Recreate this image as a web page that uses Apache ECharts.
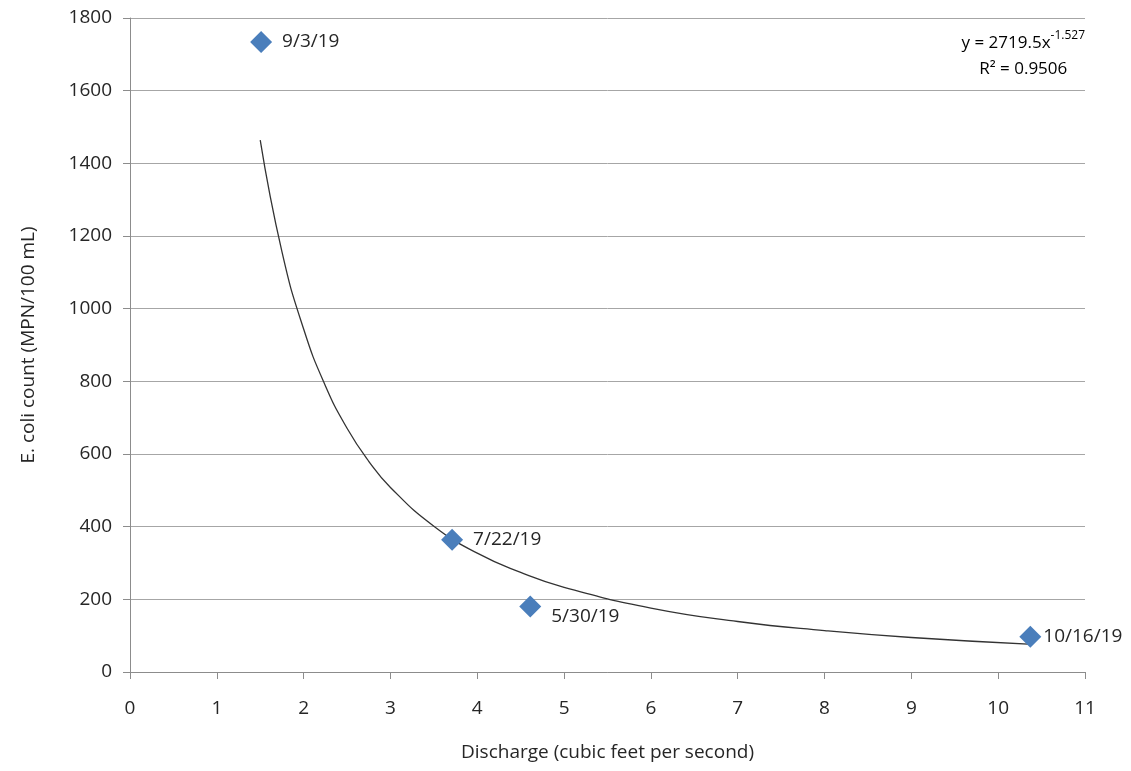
<!DOCTYPE html>
<html>
<head>
<meta charset="utf-8">
<script src="https://cdn.jsdelivr.net/npm/echarts@6/dist/echarts.min.js"></script>
<style>
  html, body { margin: 0; padding: 0; background: #fff; }
  #main { width: 1131px; height: 771px; }
</style>
</head>
<body>
<div id="main"></div>
<script>
// sample points (discharge, E. coli count, date label)
var discharge = [1.51, 3.71, 4.61, 10.37];
var ecoli = [1734, 364, 180, 97];
var dates = ['9/3/19', '7/22/19', '5/30/19', '10/16/19'];

// power trendline points: worked out by hand from the equation printed on the chart
// (y = 2719.5x^-1.527), then checked against the drawn curve
var trendX = [1.5, 1.75, 2, 2.25, 2.5, 2.75, 3, 3.5, 4, 4.5, 5, 6, 7, 8, 9, 10.4];
var trendY = [1464, 1157, 944, 788, 671, 580, 508, 401, 327, 274, 233, 176, 139, 114, 95, 76];

var xTicks = [0, 1, 2, 3, 4, 5, 6, 7, 8, 9, 10, 11];
var yTicks = [0, 200, 400, 600, 800, 1000, 1200, 1400, 1600, 1800];

var font = 'Open Sans';
var txt = '#262626';

var points = [];
for (var i = 0; i < discharge.length; i++) {
    points.push({ value: [discharge[i], ecoli[i]], name: dates[i] });
}
var trend = [];
for (var i = 0; i < trendX.length; i++) {
    trend.push([trendX[i], trendY[i]]);
}

var chart = echarts.init(document.getElementById('main'));
chart.setOption({
    animation: false,
    grid: { left: 130, right: 46, top: 18, bottom: 99, outerBoundsMode: 'none', containLabel: false },
    xAxis: {
        type: 'value', min: xTicks[0], max: xTicks[xTicks.length - 1], interval: 1,
        name: 'Discharge (cubic feet per second)',
        nameLocation: 'middle', nameGap: 71,
        nameTextStyle: { fontFamily: font, fontSize: 19, color: txt },
        axisLine: { lineStyle: { color: '#8c8c8c', width: 1 } },
        axisTick: { show: true, length: 7, lineStyle: { color: '#8c8c8c' } },
        axisLabel: { fontFamily: font, fontSize: 19, color: txt, margin: 27 },
        splitLine: { show: false }
    },
    yAxis: {
        type: 'value', min: yTicks[0], max: yTicks[yTicks.length - 1], interval: 200,
        name: 'E. coli count (MPN/100 mL)',
        nameLocation: 'middle', nameGap: 92, nameRotate: 90,
        nameTextStyle: { fontFamily: font, fontSize: 19, color: txt },
        axisLine: { show: true, lineStyle: { color: '#8c8c8c', width: 1 } },
        axisTick: { show: true, length: 7, lineStyle: { color: '#8c8c8c' } },
        axisLabel: {
            fontFamily: font, fontSize: 19, color: txt, margin: 18,
            formatter: function (v) { return String(v); }
        },
        splitLine: { show: true, lineStyle: { color: '#a6a6a6', width: 1 } }
    },
    series: [
        {
            type: 'line', data: trend, smooth: true, showSymbol: false,
            lineStyle: { color: '#333333', width: 1.3 },
            z: 2
        },
        {
            type: 'scatter', data: points,
            symbol: 'diamond', symbolSize: 22,
            itemStyle: { color: '#4a7ebb', opacity: 1 },
            label: {
                show: true, position: 'right', distance: 10,
                formatter: '{b}',
                fontFamily: font, fontSize: 19, color: txt
            },
            labelLayout: function (p) {
                if (p.dataIndex === 2) return { dy: 10 };
                if (p.dataIndex === 3) return { dx: -8 };
                return {};
            },
            z: 3
        }
    ],
    graphic: [
        {
            type: 'text', right: 46, top: 30,
            style: {
                text: '{a|y = 2719.5x}{s|-1.527}\n{a|R² = 0.9506}',
                align: 'center',
                rich: {
                    a: { fontFamily: font, fontSize: 17, color: txt, lineHeight: 26, align: 'center' },
                    s: { fontFamily: font, fontSize: 12, color: txt, verticalAlign: 'top', padding: [0, 0, 8, 0] }
                }
            }
        }
    ]
});
</script>
</body>
</html>
